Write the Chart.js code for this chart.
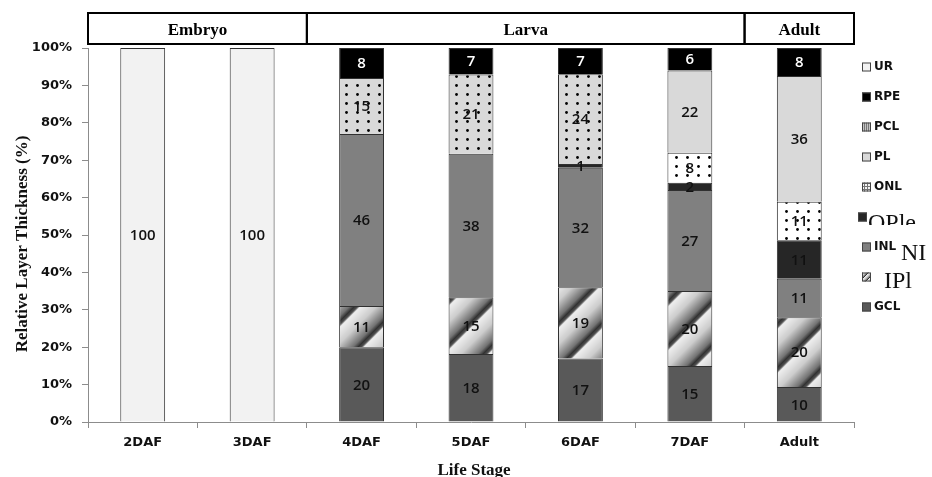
<!DOCTYPE html>
<html>
<head>
<meta charset="utf-8">
<script src="https://cdn.jsdelivr.net/npm/chart.js@4.4.1/dist/chart.umd.min.js"></script>
<style>
  html, body { margin: 0; padding: 0; background: #fff; }
  canvas { display: block; }
</style>
</head>
<body>
<canvas id="chart" width="932" height="477"></canvas>
<script>
const stages = ['2DAF', '3DAF', '4DAF', '5DAF', '6DAF', '7DAF', 'Adult'];
const layers = ['GCL', 'IPL', 'INL', 'OPL', 'ONL', 'PL', 'PCL', 'RPE', 'UR'];

// raw layer thickness values shown on the bars (bottom → top)
const GCL = [0, 0, 20, 18, 17, 15, 10];
const IPL = [0, 0, 11, 15, 19, 20, 20];
const INL = [0, 0, 46, 38, 32, 27, 11];
const OPL = [0, 0, 0, 0, 1, 2, 11];
const ONL = [0, 0, 15, 21, 24, 8, 11];
const PL = [0, 0, 0, 0, 0, 22, 36];
const PCL = [0, 0, 0, 0, 0, 0, 0];
const RPE = [0, 0, 8, 7, 7, 6, 8];
const UR = [100, 100, 0, 0, 0, 0, 0];

const yTicks = [0, 10, 20, 30, 40, 50, 60, 70, 80, 90, 100];
const groups = [
  { label: 'Embryo', from: 0, to: 1 },
  { label: 'Larva', from: 2, to: 5 },
  { label: 'Adult', from: 6, to: 6 },
];
const yTitle = 'Relative Layer Thickness (%)';
const xTitle = 'Life Stage';
// legend oddities of the original figure: [small label, large serif overlay]
const legendText = {
  OPL: ['', 'OPle'],
  INL: ['INL', 'NI'],
  IPL: ['', 'IPl'],
};

const series = [GCL, IPL, INL, OPL, ONL, PL, PCL, RPE, UR];
const totals = stages.map((_, i) => series.reduce((s, arr) => s + arr[i], 0));

const $ = (id) => document.getElementById(id);
const ctx0 = $('chart').getContext('2d');

function tile(w, h, draw) {
  const c = document.createElement('canvas');
  c.width = w;
  c.height = h;
  draw(c.getContext('2d'), w, h);
  return ctx0.createPattern(c, 'repeat');
}

const STOPS = [[0, 50], [0.08, 80], [0.14, 238], [0.5, 205], [0.88, 115], [1, 50]];
function shade(t) {
  for (let k = 1; k < STOPS.length; k++) {
    const [t1, v1] = STOPS[k];
    const [t0, v0] = STOPS[k - 1];
    if (t <= t1) return Math.round(v0 + ((t - t0) / (t1 - t0)) * (v1 - v0));
  }
  return STOPS[STOPS.length - 1][1];
}

function stripes(s) {
  return tile(s, s, (g, w, h) => {
    const img = g.createImageData(w, h);
    for (let y = 0; y < h; y++) {
      for (let x = 0; x < w; x++) {
        const v = shade(((x + y) % s) / s);
        const i = (y * w + x) * 4;
        img.data[i] = img.data[i + 1] = img.data[i + 2] = v;
        img.data[i + 3] = 255;
      }
    }
    g.putImageData(img, 0, 0);
  });
}

function dots(bg) {
  return tile(11, 9, (g, w, h) => {
    g.fillStyle = bg;
    g.fillRect(0, 0, w, h);
    g.fillStyle = '#000';
    g.beginPath();
    g.arc(5.5, 4.5, 1.4, 0, Math.PI * 2);
    g.fill();
  });
}

const dotsGray = dots('#d9d9d9');
const dotsWhite = dots('#ffffff');

const fills = {
  GCL: '#595959',
  IPL: stripes(44),
  INL: '#808080',
  OPL: '#262626',
  ONL: [dotsGray, dotsGray, dotsGray, dotsGray, dotsGray, dotsWhite, dotsWhite],
  PL: '#d9d9d9',
  PCL: '#a6a6a6',
  RPE: '#000000',
  UR: '#f2f2f2',
};

const swatches = {
  GCL: '#595959',
  IPL: stripes(6),
  INL: '#808080',
  OPL: '#262626',
  ONL: tile(3, 3, (g) => {
    g.fillStyle = '#f4f4f4';
    g.fillRect(0, 0, 3, 3);
    g.fillStyle = '#777';
    g.fillRect(0, 0, 3, 1);
    g.fillRect(0, 0, 1, 3);
  }),
  PL: '#d9d9d9',
  PCL: tile(2, 1, (g) => {
    g.fillStyle = '#777';
    g.fillRect(0, 0, 1, 1);
    g.fillStyle = '#c4c4c4';
    g.fillRect(1, 0, 1, 1);
  }),
  RPE: '#000000',
  UR: '#f2f2f2',
};

const overlay = {
  id: 'overlay',
  afterDatasetsDraw(chart) {
    const ctx = chart.ctx;
    ctx.save();
    ctx.font = '600 15px "Open Sans"';
    ctx.textAlign = 'center';
    ctx.textBaseline = 'middle';
    chart.data.datasets.forEach((ds, k) => {
      chart.getDatasetMeta(k).data.forEach((el, i) => {
        const v = ds.raw[i];
        if (!v) return;
        ctx.fillStyle = ds.label === 'RPE' ? '#fff' : '#111';
        ctx.fillText(String(v), el.x, (el.y + el.base) / 2 + 1);
      });
    });
    ctx.restore();
  },
  afterDraw(chart) {
    const ctx = chart.ctx;
    const xs = chart.scales.x;
    const step = (xs.right - xs.left) / stages.length;

    // axis titles, placed where the original has them
    ctx.save();
    ctx.font = 'bold 17px "Liberation Serif"';
    ctx.fillStyle = '#111';
    ctx.textAlign = 'center';
    ctx.textBaseline = 'alphabetic';
    ctx.fillText(xTitle, (xs.left + xs.right) / 2 + 3, 475);
    ctx.translate(23, 244);
    ctx.rotate(-Math.PI / 2);
    ctx.textBaseline = 'middle';
    ctx.fillText(yTitle, 0, 0);
    ctx.restore();

    // stage header boxes
    ctx.save();
    ctx.strokeStyle = '#000';
    ctx.lineWidth = 2;
    ctx.font = 'bold 17px "Liberation Serif"';
    ctx.fillStyle = '#000';
    ctx.textAlign = 'center';
    ctx.textBaseline = 'alphabetic';
    for (const g of groups) {
      const x0 = xs.getPixelForValue(g.from) - step / 2;
      const x1 = xs.getPixelForValue(g.to) + step / 2;
      ctx.strokeRect(x0, 13, x1 - x0, 31);
      ctx.fillText(g.label, (x0 + x1) / 2, 35);
    }
    ctx.restore();

    // legend
    ctx.save();
    const list = chart.data.datasets.slice().reverse();
    list.forEach((ds, i) => {
      const cy = 67 + i * 30;
      const sx = ds.label === 'OPL' ? 858 : 862;
      ctx.fillStyle = ds.swatch;
      ctx.fillRect(sx, cy - 4.5, 9, 9);
      ctx.strokeStyle = '#444';
      ctx.lineWidth = 1;
      ctx.strokeRect(sx + 0.5, cy - 4.5 + 0.5, 8, 8);
      const [small, big] = legendText[ds.label] || [ds.label, ''];
      ctx.fillStyle = '#111';
      ctx.textAlign = 'left';
      ctx.textBaseline = 'middle';
      ctx.font = 'bold 12px "DejaVu Sans"';
      if (small) ctx.fillText(small, 874, cy);
      if (big) {
        ctx.font = '24px "Liberation Serif"';
        ctx.textBaseline = 'alphabetic';
        if (ds.label === 'OPL') {
          ctx.save();
          ctx.beginPath();
          ctx.rect(860, 195, 72, 30);
          ctx.clip();
          ctx.fillText(big, 868, 230);
          ctx.restore();
        } else if (ds.label === 'INL') {
          ctx.fillText(big, 901, 260);
        } else {
          ctx.fillText(big, 884, 288);
        }
      }
    });
    ctx.restore();
  },
};

const tickFont = { family: 'DejaVu Sans', size: 13, weight: 'bold' };

new Chart($('chart'), {
  type: 'bar',
  data: {
    labels: stages,
    datasets: layers.map((name, k) => ({
      label: name,
      data: series[k].map((v, i) => (v / totals[i]) * 100),
      raw: series[k],
      backgroundColor: fills[name],
      swatch: swatches[name],
      borderColor: '#303030',
      borderWidth: 1,
      barPercentage: 0.41,
      categoryPercentage: 1,
    })),
  },
  options: {
    responsive: false,
    animation: false,
    layout: { padding: { top: 48, right: 78, left: 0, bottom: 0 } },
    plugins: { legend: { display: false }, tooltip: { enabled: false } },
    scales: {
      x: {
        stacked: true,
        ticks: { font: tickFont, color: '#111', padding: 7 },
        grid: { drawOnChartArea: false, tickLength: 6, color: '#8c8c8c', offset: true },
        border: { color: '#8c8c8c' },
        afterFit: (s) => {
          s.height = 55;
        },
      },
      y: {
        stacked: true,
        min: 0,
        max: 100,
        afterBuildTicks: (s) => {
          s.ticks = yTicks.map((v) => ({ value: v }));
        },
        ticks: { callback: (v) => v + '%', font: tickFont, color: '#111', padding: 10 },
        grid: { drawOnChartArea: false, tickLength: 6, color: '#8c8c8c' },
        border: { color: '#8c8c8c' },
        afterFit: (s) => {
          s.width = 88;
        },
      },
    },
  },
  plugins: [overlay],
});
</script>
</body>
</html>
